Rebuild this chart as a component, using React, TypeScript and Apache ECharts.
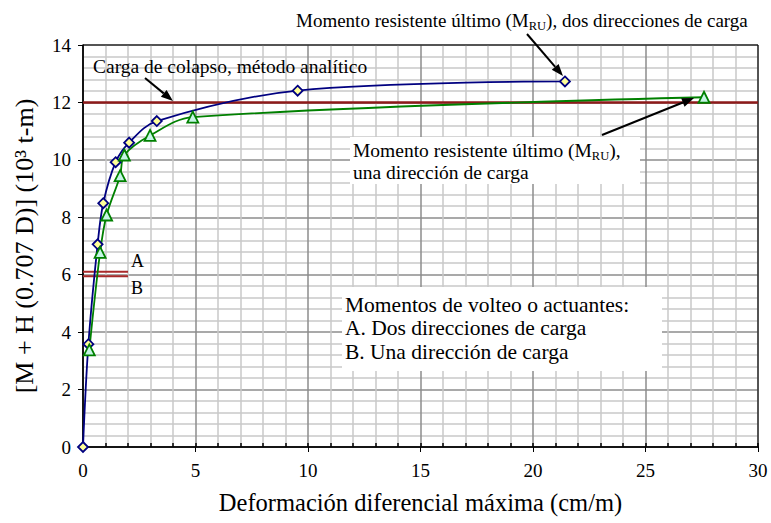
import React, { useEffect, useRef } from "react";
import * as echarts from "echarts";

// Blue: dos direcciones de carga (diamonds)
const blueX = [0, 0.24, 0.65, 0.9, 1.45, 2.05, 3.28, 9.54, 21.42];
const blueY = [0, 3.58, 7.06, 8.49, 9.92, 10.6, 11.35, 12.41, 12.73];
// Green: una dirección de carga (triangles)
const greenX = [0.28, 0.76, 1.05, 1.65, 1.84, 2.98, 4.88, 27.6];
const greenY = [3.38, 6.78, 8.08, 9.45, 10.17, 10.85, 11.49, 12.18];
// Reference lines
const collapseLine = [[0, 12], [30, 12]];
const lineA = [[0, 6.1], [2, 6.1]];
const lineB = [[0, 5.95], [2, 5.95]];

const X_MIN = 0, X_MAX = 30, X_STEP = 5;
const Y_MIN = 0, Y_MAX = 14, Y_STEP = 2;

const FONT = "Liberation Serif";

function arrow(x1: number, y1: number, x2: number, y2: number) {
  const ang = Math.atan2(y2 - y1, x2 - x1);
  const len = 12, half = 4.5;
  const bx = x2 - len * Math.cos(ang), by = y2 - len * Math.sin(ang);
  const px = -Math.sin(ang) * half, py = Math.cos(ang) * half;
  return [
    { type: "line", shape: { x1, y1, x2: bx, y2: by }, style: { stroke: "#000", lineWidth: 2 }, z: 20 },
    {
      type: "polygon",
      shape: { points: [[x2, y2], [bx + px, by + py], [bx - px, by - py]] },
      style: { fill: "#000" },
      z: 20,
    },
  ];
}

export default function App() {
  const ref = useRef<HTMLDivElement>(null);
  useEffect(() => {
    document.body.style.margin = "0";
    const chart = echarts.init(ref.current!, null, { renderer: "svg" });
    const zip = (xs: number[], ys: number[]) => xs.map((x, i) => [x, ys[i]]);
    const subRich = {
      sub: { fontSize: 12.5, fontFamily: FONT, fill: "#000", padding: [10, 0, 0, 0] },
    };
    chart.setOption({
      animation: false,
      backgroundColor: "#fff",
      textStyle: { fontFamily: FONT },
      grid: { left: 83, top: 45, width: 675, height: 402, show: true, borderColor: "#000", borderWidth: 1, backgroundColor: "transparent", z: 3 },
      xAxis: [
        {
          type: "value", min: X_MIN, max: X_MAX, interval: X_STEP, position: "bottom",
          name: "Deformación diferencial máxima (cm/m)", nameLocation: "middle", nameGap: 43,
          nameTextStyle: { fontFamily: FONT, fontSize: 24.5, color: "#000" },
          axisLine: { show: true, lineStyle: { color: "#000", width: 1.5 } },
          axisTick: { show: true, length: 5, lineStyle: { color: "#000" } },
          axisLabel: { fontFamily: FONT, fontSize: 19, color: "#000", margin: 14 },
          splitLine: { show: true, lineStyle: { color: "#8c8c8c", width: 1.5 } },
          minorTick: { show: false, splitNumber: 5 },
          minorSplitLine: { show: true, lineStyle: { color: "#c8c8c8", width: 1.5 } },
        },
        {
          type: "value", min: X_MIN, max: X_MAX, interval: 1, position: "bottom", offset: 0,
          axisLine: { show: false }, axisLabel: { show: false }, splitLine: { show: false },
          axisTick: { show: true, inside: true, length: 4, lineStyle: { color: "#000", width: 1.5 } },
        },
      ],
      yAxis: {
        type: "value", min: Y_MIN, max: Y_MAX, interval: Y_STEP,
        name: "[M + H (0.707 D)] (10³ t-m)", nameLocation: "middle", nameGap: 46, nameRotate: 90,
        nameTextStyle: { fontFamily: FONT, fontSize: 26, color: "#000" },
        axisLine: { show: true, lineStyle: { color: "#000", width: 1.5 } },
        axisTick: { show: true, length: 5, lineStyle: { color: "#000" } },
        axisLabel: { fontFamily: FONT, fontSize: 19, color: "#000", margin: 12 },
        splitLine: { show: true, lineStyle: { color: "#8c8c8c", width: 1.5 } },
        minorTick: { show: false, splitNumber: 5 },
        minorSplitLine: { show: true, lineStyle: { color: "#c8c8c8", width: 1.5 } },
      },
      series: [
        { type: "line", data: collapseLine, symbol: "none", lineStyle: { color: "#8e1a1a", width: 2.5 }, z: 4 },
        { type: "line", data: lineA, symbol: "none", lineStyle: { color: "#a82a2a", width: 2 }, z: 4 },
        { type: "line", data: lineB, symbol: "none", lineStyle: { color: "#a82a2a", width: 2 }, z: 4 },
        {
          type: "line", data: zip(blueX, blueY), smooth: 0.35, symbol: "diamond", symbolSize: 10,
          lineStyle: { color: "#000080", width: 1.8 },
          itemStyle: { color: "#ffff99", borderColor: "#000080", borderWidth: 1.8 }, z: 5,
        },
        {
          type: "line", data: zip(greenX, greenY), smooth: 0.35, symbol: "triangle", symbolSize: 11,
          lineStyle: { color: "#008000", width: 1.8 },
          itemStyle: { color: "#c6f5e6", borderColor: "#008000", borderWidth: 1.8 }, z: 5,
        },
      ],
      graphic: [
        { type: "text", left: 93, top: 56, z: 20, style: { text: "Carga de colapso, método analítico", fontFamily: FONT, fontSize: 19.5, fill: "#000" } },
        ...arrow(145, 78, 173, 101),
        {
          type: "text", left: 296, top: 11, z: 20,
          style: { text: "Momento resistente último (M{sub|RU}), dos direcciones de carga", fontFamily: FONT, fontSize: 19, fill: "#000", rich: subRich },
        },
        ...arrow(527, 34, 563, 76),
        { type: "rect", shape: { x: 350, y: 137, width: 290, height: 47 }, style: { fill: "#fff" }, z: 15 },
        {
          type: "text", left: 353, top: 140, z: 20,
          style: { text: "Momento resistente último (M{sub|RU}),\nuna dirección de carga", fontFamily: FONT, fontSize: 19.5, lineHeight: 21.5, fill: "#000", rich: subRich },
        },
        ...arrow(602, 135, 694, 98),
        { type: "rect", shape: { x: 342, y: 287, width: 320, height: 84 }, style: { fill: "#fff" }, z: 15 },
        {
          type: "text", left: 345, top: 293, z: 20,
          style: { text: "Momentos de volteo o actuantes:\nA. Dos direcciones de carga\nB. Una dirección de carga", fontFamily: FONT, fontSize: 21.5, lineHeight: 23.5, fill: "#000" },
        },
        { type: "text", left: 131, top: 252, z: 20, style: { text: "A", fontFamily: FONT, fontSize: 18, fill: "#000" } },
        { type: "text", left: 131, top: 279, z: 20, style: { text: "B", fontFamily: FONT, fontSize: 18, fill: "#000" } },
      ],
    });
    return () => chart.dispose();
  }, []);
  return <div ref={ref} style={{ width: 771, height: 523 }} />;
}
